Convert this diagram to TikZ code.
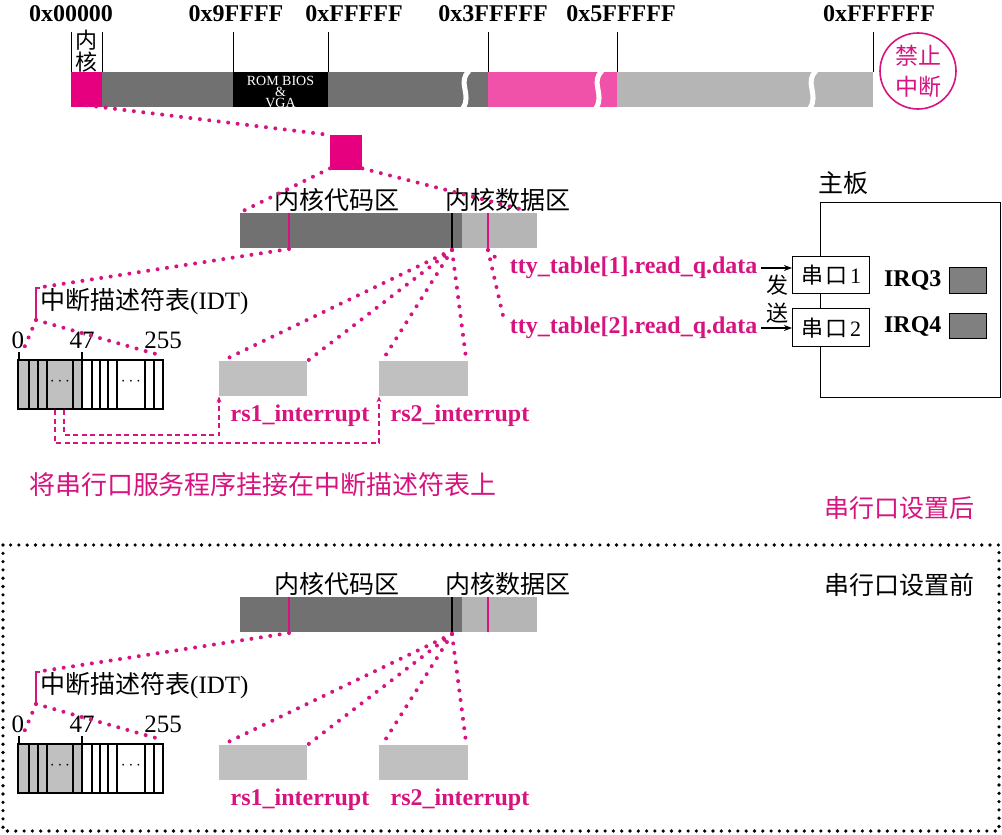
\documentclass[tikz,border=0pt]{standalone}
\usepackage{fontspec}
\setmainfont{Liberation Serif}
\newfontfamily\cjk{Noto Sans CJK SC}
\usetikzlibrary{arrows.meta}
\definecolor{mag}{HTML}{D6137F}
\definecolor{kern}{HTML}{E6007F}
\definecolor{pinkseg}{HTML}{F052A9}
\definecolor{dg}{HTML}{717171}
\definecolor{lg}{HTML}{B5B5B5}
\definecolor{rsg}{HTML}{C0C0C0}
\definecolor{irqg}{HTML}{808080}
\newcommand\fs[1]{\fontsize{#1}{#1}\selectfont}
\tikzset{
  dotl/.style={draw=mag, line width=4pt, line cap=round, dash pattern=on 0pt off 9.5pt},
  dashl/.style={draw=mag, line width=1.5pt, dash pattern=on 5pt off 3.5pt},
  seg/.style={inner sep=0pt, anchor=north west, minimum height=35pt},
  hexlbl/.style={font=\bfseries\fs{24}},
  tick/.style={draw=black, line width=0.9pt},
  cjklbl/.style={font=\cjk\fs{25}},
  maglbl/.style={text=mag, font=\bfseries\fs{24}},
  box/.style={draw=black, line width=1.3pt},
}
\newcommand\kernsec[1]{%
  \node[cjklbl] (#1lc) at (337,200) {内核代码区};
  \node[cjklbl] (#1ld) at (508,200) {内核数据区};
  \node[seg, fill=dg, minimum width=222pt] (#1code) at (240,213) {};
  \node[seg, fill=lg, minimum width=75pt] (#1data) at (462,213) {};
  \draw[line width=2pt] (452,213)--(452,248);
  \draw[mag, line width=1.5pt] (289,213)--(289,248) (488,213)--(488,248);
  \coordinate (#1pk1) at (289,249);
  \coordinate (#1blk) at (452,250);
  \coordinate (#1pk2) at (488,250);
  % IDT
  \coordinate (#1brT) at (36,288);
  \coordinate (#1brB) at (36,320);
  \draw[mag, line width=1.2pt] (40,288) -- (#1brT) -- (#1brB);
  \node[anchor=west, inner sep=0pt, font=\fs{25}] (#1idt) at (40,302) {{\cjk 中断描述符表}(IDT)};
  \fill[rsg] (18,360) rectangle (82,409);
  \foreach \xx in {29,38,47,73,82,92,100,108,117,145,154} {\draw[line width=1.2pt] (\xx,360)--(\xx,409);}
  \draw[line width=1.4pt] (18,360) rectangle (163,409);
  \draw[line width=1.2pt] (19,352)--(19,360) (82,352)--(82,360);
  \node[font=\fs{16}] at (60,382) {$\cdots$};
  \node[font=\fs{16}] at (131,382) {$\cdots$};
  \node[font=\fs{25}] (#1n0) at (18,340) {0};
  \node[font=\fs{25}] (#1n47) at (82,340) {47};
  \node[font=\fs{25}] (#1n255) at (163,340) {255};
  \coordinate (#1t0) at (22,353);
  \coordinate (#1t255) at (163,356);
  % rs boxes
  \node[seg, fill=rsg, minimum width=88pt] (#1rs1) at (219,361) {};
  \node[seg, fill=rsg, minimum width=89pt] (#1rs2) at (379,361) {};
  \node[maglbl] (#1rs1l) at (300,416) {rs1\_interrupt};
  \node[maglbl] (#1rs2l) at (460,416) {rs2\_interrupt};
  % dotted connectors
  \draw[dotl] (#1pk1) -- (#1brT);
  \draw[dotl] (#1brB) -- (#1t0);
  \draw[dotl] (#1brB) -- (#1t255);
  \draw[dotl] (#1blk) -- ([xshift=3pt]#1rs1.north west);
  \draw[dotl] (#1blk) -- (#1rs1.north east);
  \draw[dotl] (#1blk) -- ([xshift=3pt]#1rs2.north west);
  \draw[dotl] (#1blk) -- ([xshift=-2pt]#1rs2.north east);
}
\begin{document}
\begin{tikzpicture}[x=1pt, y=-1pt]
\useasboundingbox (0,0) rectangle (1002,835);
% ---------------- top memory bar
\node[hexlbl] (h0) at (71,14) {0x00000};
\node[hexlbl] (h1) at (236,14) {0x9FFFF};
\node[hexlbl] (h2) at (354,14) {0xFFFFF};
\node[hexlbl] (h3) at (493,14) {0x3FFFFF};
\node[hexlbl] (h4) at (621,14) {0x5FFFFF};
\node[hexlbl] (h5) at (879,14) {0xFFFFFF};
\foreach \xx in {71,102,233,328,488,617,873} {\draw[tick] (\xx,32)--(\xx,72);}
\node[font=\cjk\fs{22}, align=center, inner sep=0pt] (kl) at (86.5,51) {内\\核};
\node[seg, fill=kern, minimum width=31pt] (kern) at (71,72) {};
\node[seg, fill=dg, minimum width=131pt] (low) at (102,72) {};
\node[seg, fill=black, minimum width=95pt] (rom) at (233,72) {};
\node[seg, fill=dg, minimum width=160pt] (ext) at (328,72) {};
\node[seg, fill=pinkseg, minimum width=129pt] (buf) at (488,72) {};
\node[seg, fill=lg, minimum width=256pt] (main) at (617,72) {};
\begin{scope}
  \clip (233,72) rectangle (328,107);
  \node[text=white, font=\fontsize{14}{11}\selectfont, align=center, inner sep=0pt] (romt) at (280.5,92) {ROM BIOS\\\&\\VGA};
\end{scope}
\foreach \xx in {464,597,811} {
  \draw[white, line width=5pt] (\xx+5,71) .. controls (\xx-7,82) and (\xx+8,95) .. (\xx-1,108);
}
\node[draw=mag, circle, line width=1.6pt, minimum size=76pt] (stop) at (918,71) {};
\node[text=mag, font=\cjk\fontsize{23}{31}\selectfont, align=center] at (stop.center) {禁止\\中断};
% ---------------- middle: after setting
\node[seg, fill=kern, minimum width=32pt] (sq) at (330,135) {};
\draw[dotl] ([yshift=2pt]kern.south) -- (sq.north west);
\kernsec{a}
\draw[dotl] ([yshift=2pt]sq.south west) -- (243,211);
\draw[dotl] ([yshift=2pt]sq.south east) -- (528,211);
\coordinate (tt1) at (497,259);
\coordinate (tt2) at (504,320);
\draw[dotl] (apk2) -- (tt1);
\draw[dotl] (apk2) -- (tt2);
\node[maglbl, anchor=east] (tty1) at (761,268) {tty\_table[1].read\_q.data};
\node[maglbl, anchor=east] (tty2) at (761,328) {tty\_table[2].read\_q.data};
% mainboard
\node[box, anchor=north west, minimum width=180pt, minimum height=195pt, inner sep=0pt] (board) at (820,202) {};
\node[font=\cjk\fs{25}] (boardl) at (843,183) {主板};
\node[box, fill=white, anchor=north west, minimum width=77pt, minimum height=37pt, inner sep=0pt, font=\fs{22}] (p1) at (792,256) {{\cjk 串\kern2pt 口}\kern3pt 1};
\node[box, fill=white, anchor=north west, minimum width=77pt, minimum height=38pt, inner sep=0pt, font=\fs{22}] (p2) at (792,308) {{\cjk 串\kern2pt 口}\kern3pt 2};
\draw[line width=1.5pt, -{Stealth[length=8pt, width=6pt]}] (tty1.east) -- (tty1.east -| p1.west);
\draw[line width=1.5pt, -{Stealth[length=8pt, width=6pt]}] (tty2.east) -- (tty2.east -| p2.west);
\node[font=\cjk\fontsize{22}{28}\selectfont, align=center, inner sep=0pt] (send) at (777,299) {发\\送};
\node[font=\bfseries\fs{24}, anchor=east] (irq3) at (945,280) {IRQ3};
\node[box, fill=irqg, anchor=north west, minimum width=37pt, minimum height=26pt, inner sep=0pt] (irq3b) at (949,267) {};
\node[font=\bfseries\fs{24}, anchor=east] (irq4) at (945,326) {IRQ4};
\node[box, fill=irqg, anchor=north west, minimum width=37pt, minimum height=25pt, inner sep=0pt] (irq4b) at (949,313) {};
% dashed hooks
\coordinate (dA) at (55,410);
\coordinate (dB) at (64,410);
\draw[dashl, -{Stealth[length=6pt, width=5pt]}] (dB) -- (64,435) -| (ars1.south west);
\draw[dashl, -{Stealth[length=6pt, width=5pt]}] (dA) -- (55,443) -| (ars2.south west);
\node[text=mag, font=\cjk\fs{26}] (hook) at (263,485) {将串行口服务程序挂接在中断描述符表上};
\node[text=mag, font=\cjk\fs{25}] (after) at (899,508) {串行口设置后};
% ---------------- bottom: before setting
\draw[black, line width=3.6pt, line cap=round, dash pattern=on 0pt off 8.3pt] (3,545) rectangle (999,831);
\node[font=\cjk\fs{25}] (before) at (899,585) {串行口设置前};
\begin{scope}[yshift=-384pt]
\kernsec{b}
\end{scope}
\end{tikzpicture}
\end{document}
